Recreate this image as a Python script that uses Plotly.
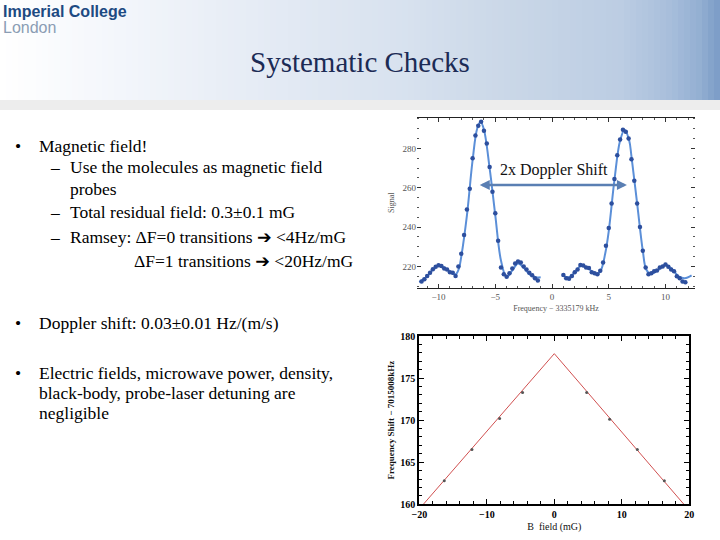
import plotly.graph_objects as go

# ---------------- data ----------------
# Top chart: Doppler spectrum (signal vs frequency offset, kHz)
left_x = [-11.5, -11.25, -11.0, -10.75, -10.5, -10.25, -10.0, -9.75, -9.5, -9.25, -9.0, -8.75,
          -8.5, -8.25, -8.0, -7.75, -7.5, -7.25, -7.0, -6.75, -6.5, -6.25, -6.0, -5.75, -5.5,
          -5.25, -5.0, -4.75, -4.5, -4.25, -4.0, -3.75, -3.5, -3.25, -3.0, -2.75, -2.5, -2.25,
          -2.0, -1.75, -1.5, -1.25]
left_y = [212.3, 213.5, 215.2, 216.8, 218.6, 219.8, 220.6, 220.2, 219.0, 218.5, 217.0, 216.8,
          215.2, 220.0, 226.5, 236.0, 249.0, 259.5, 275.0, 286.5, 291.5, 293.5, 289.0, 282.5,
          270.5, 258.0, 247.0, 233.0, 219.5, 216.0, 214.8, 216.5, 219.0, 221.5, 222.5, 222.0,
          220.0, 218.5, 216.8, 215.5, 214.0, 212.8]
right_x = [1.0, 1.25, 1.5, 1.75, 2.0, 2.25, 2.5, 2.75, 3.0, 3.25, 3.5, 3.75, 4.0, 4.25, 4.5,
           4.75, 5.0, 5.25, 5.5, 5.75, 6.0, 6.25, 6.5, 6.75, 7.0, 7.25, 7.5, 7.75, 8.0, 8.25,
           8.5, 8.75, 9.0, 9.25, 9.5, 9.75, 10.0, 10.25, 10.5, 10.75, 11.0, 11.25, 11.5, 11.75]
right_y = [215.6, 214.0, 213.8, 215.2, 217.0, 218.5, 220.8, 220.5, 219.5, 219.2, 217.0, 216.5,
           216.0, 217.8, 222.0, 230.5, 239.5, 252.0, 264.5, 276.5, 284.5, 289.5, 288.5, 285.0,
           274.5, 263.5, 252.0, 240.0, 228.0, 219.5, 216.0, 216.5, 217.5, 218.0, 219.5, 220.0,
           221.0, 219.8, 218.5, 217.5, 215.0, 214.0, 212.3, 212.0]
fit_left_x = [-11.7, -11.0, -10.5, -10.0, -9.5, -9.0, -8.5, -8.2, -8.0, -7.5, -7.0, -6.6, -6.3,
              -6.0, -5.5, -5.0, -4.5, -4.0, -3.5, -3.0, -2.5, -2.0, -1.5, -1.0]
fit_left_y = [212.0, 215.0, 218.5, 220.5, 219.5, 217.3, 216.0, 219.0, 225.0, 246.0, 274.0, 290.0,
              293.5, 289.5, 270.0, 246.0, 223.0, 214.5, 218.0, 221.5, 219.5, 216.0, 214.5, 214.5]
fit_right_x = [0.9, 1.5, 2.0, 2.6, 3.2, 3.9, 4.3, 4.7, 5.0, 5.5, 6.0, 6.4, 6.8, 7.0, 7.5, 8.0,
               8.3, 8.7, 9.3, 10.0, 10.6, 11.2, 11.7, 12.3]
fit_right_y = [215.5, 214.5, 217.0, 220.5, 219.0, 215.8, 218.0, 227.0, 238.0, 264.0, 284.0, 289.5,
               284.0, 276.0, 252.0, 228.0, 218.5, 216.3, 218.0, 220.8, 218.5, 214.8, 214.0, 215.5]
top_xticks = [-10, -5, 0, 5, 10]
top_xticklabels = ["\u221210", "\u22125", "0", "5", "10"]
top_yticks = [220, 240, 260, 280]
doppler_arrow = [-6.5, 6.6, 261.4]  # from x, to x, at y

# Bottom chart: frequency shift vs B-field
b_field = [-16.3, -12.2, -8.1, -4.7, 4.8, 8.2, 12.3, 16.3]
freq_shift = [162.8, 166.5, 170.2, 173.3, 173.3, 170.1, 166.5, 162.8]
fit_b = [-19.4, 0.0, 19.2]
fit_shift = [160.0, 177.9, 160.0]
bot_xticks = [-20, -10, 0, 10, 20]
bot_xticklabels = ["\u221220", "\u221210", "0", "10", "20"]
bot_yticks = [160, 165, 170, 175, 180]

# ---------------- figure ----------------
W, H = 720, 540
SERIF = "Liberation Serif"
fig = go.Figure()

# top chart traces
for fx, fy in [(fit_left_x, fit_left_y), (fit_right_x, fit_right_y)]:
    fig.add_trace(go.Scatter(x=fx, y=fy, mode="lines", line=dict(color="#5b8fd8", width=2, shape="spline"),
                             xaxis="x", yaxis="y", hoverinfo="skip", showlegend=False))
for dx, dy in [(left_x, left_y), (right_x, right_y)]:
    fig.add_trace(go.Scatter(x=dx, y=dy, mode="markers", marker=dict(color="#2d4f9e", size=4.5),
                             xaxis="x", yaxis="y", showlegend=False))

# bottom chart traces
fig.add_trace(go.Scatter(x=fit_b, y=fit_shift, mode="lines", line=dict(color="#d05050", width=1),
                         xaxis="x2", yaxis="y2", showlegend=False))
fig.add_trace(go.Scatter(x=b_field, y=freq_shift, mode="markers", marker=dict(color="#555555", size=3),
                         xaxis="x2", yaxis="y2", showlegend=False))

def px_x(p):
    return p / W

def px_y(p):
    return 1 - p / H

# header gradient (style only)
stops = [(0, (255, 255, 255)), (120, (243, 246, 251)), (250, (230, 236, 245)), (400, (216, 226, 239)),
         (500, (203, 216, 232)), (620, (188, 205, 227)), (670, (168, 190, 219)), (700, (147, 175, 210)),
         (720, (122, 155, 198))]

def col_at(x):
    for (x0, c0), (x1, c1) in zip(stops[:-1], stops[1:]):
        if x0 <= x <= x1:
            t = (x - x0) / (x1 - x0)
            return "rgb(%d,%d,%d)" % tuple(round(a + (b - a) * t) for a, b in zip(c0, c1))
    return "rgb(122,155,198)"

shapes = []
step = 6
for xs in range(0, W, step):
    shapes.append(dict(type="rect", xref="paper", yref="paper", x0=px_x(xs), x1=px_x(xs + step + 0.5),
                       y0=px_y(100), y1=1, fillcolor=col_at(xs + step / 2), line=dict(width=0), layer="below"))
shapes.append(dict(type="rect", xref="paper", yref="paper", x0=0, x1=1, y0=px_y(110), y1=px_y(100),
                   fillcolor="#ededed", line=dict(width=0), layer="below"))

annotations = []
# logo
annotations.append(dict(text="<b>Imperial College</b>", x=px_x(1), y=px_y(11), xref="paper", yref="paper",
                        xanchor="left", yanchor="middle", showarrow=False,
                        font=dict(family="Liberation Sans", size=16, color="#1d4a82")))
annotations.append(dict(text="London", x=px_x(1), y=px_y(28), xref="paper", yref="paper",
                        xanchor="left", yanchor="middle", showarrow=False,
                        font=dict(family="Liberation Sans", size=16, color="#8b9db4")))
# title
annotations.append(dict(text="Systematic Checks", x=px_x(360), y=px_y(62), xref="paper", yref="paper",
                        xanchor="center", yanchor="middle", showarrow=False,
                        font=dict(family=SERIF, size=29, color="#1c2b55")))

# left bullet text
ARW = "<span style='font-family:DejaVu Sans;font-weight:bold'>\u2794</span>"
TXT = dict(family=SERIF, size=17.5, color="#000000")
lines = [
    (13, 146, "\u2022"), (37, 146, "Magnetic field!"),
    (48, 167, "\u2013"), (68, 167, "Use the molecules as magnetic field"),
    (68, 189, "probes"),
    (48, 212, "\u2013"), (68, 212, "Total residual field: 0.3\u00b10.1 mG"),
    (48, 237, "\u2013"), (68, 237, "Ramsey: \u0394F=0 transitions " + ARW + " &lt;4Hz/mG"),
    (132, 261, "\u0394F=1 transitions " + ARW + " &lt;20Hz/mG"),
    (13, 323, "\u2022"), (37, 323, "Doppler shift: 0.03\u00b10.01 Hz/(m/s)"),
    (13, 373, "\u2022"), (37, 373, "Electric fields, microwave power, density,"),
    (37, 393, "black-body, probe-laser detuning are"),
    (37, 413, "negligible"),
]
for x, y, t in lines:
    annotations.append(dict(text=t, x=px_x(x), y=px_y(y), xref="paper", yref="paper",
                            xanchor="left", yanchor="middle", showarrow=False, font=TXT))

# doppler arrow + label on the top chart
annotations.append(dict(x=doppler_arrow[1], y=doppler_arrow[2], ax=doppler_arrow[0], ay=doppler_arrow[2],
                        xref="x", yref="y", axref="x", ayref="y", text="", showarrow=True,
                        arrowhead=2, arrowside="end+start", arrowsize=0.8, arrowwidth=2.5,
                        arrowcolor="#5a7fb3"))
annotations.append(dict(text="2x Doppler Shift", x=0.2, y=269.0, xref="x", yref="y",
                        xanchor="center", yanchor="middle", showarrow=False,
                        font=dict(family=SERIF, size=16, color="#111111")))

top_tick_font = dict(family=SERIF, size=9, color="#555555")
bot_tick_font = dict(family=SERIF, size=10, color="#000000", weight="bold")

fig.update_layout(
    width=W, height=H, margin=dict(l=0, r=0, t=0, b=0, pad=0, autoexpand=False),
    paper_bgcolor="white", plot_bgcolor="rgba(0,0,0,0)", showlegend=False,
    shapes=shapes, annotations=annotations,
    xaxis=dict(domain=[px_x(417), px_x(695)], anchor="y", range=[-11.9, 12.6], automargin=False,
               tickvals=top_xticks, ticktext=top_xticklabels, ticks="inside", ticklen=4,
               tickcolor="#333333", showline=True, linecolor="#222222", linewidth=1, mirror="ticks",
               showgrid=False, zeroline=False, tickfont=top_tick_font,
               minor=dict(dtick=1, ticks="inside", ticklen=2, tickcolor="#555555"),
               title=dict(text="Frequency \u2212 3335179 kHz", font=dict(family=SERIF, size=8, color="#555555"),
                          standoff=4)),
    yaxis=dict(domain=[px_y(287.7), px_y(117.7)], anchor="x", range=[209.2, 295.6], automargin=False,
               tickvals=top_yticks, ticks="inside", ticklen=4, tickcolor="#333333",
               showline=False, mirror="ticks", showgrid=False, zeroline=False, tickfont=top_tick_font,
               minor=dict(dtick=5, ticks="inside", ticklen=2, tickcolor="#555555"),
               title=dict(text="Signal", font=dict(family=SERIF, size=8, color="#555555"), standoff=6)),
    xaxis2=dict(domain=[px_x(419.3), px_x(689.3)], anchor="y2", range=[-20, 20], automargin=False,
                tickvals=bot_xticks, ticktext=bot_xticklabels, ticks="inside", ticklen=5,
                tickcolor="#000000", showline=True, linecolor="#000000", linewidth=2, mirror="ticks",
                showgrid=False, zeroline=False, tickfont=bot_tick_font,
                minor=dict(dtick=2, ticks="inside", ticklen=3, tickcolor="#000000"),
                title=dict(text="B  field (mG)", font=dict(family=SERIF, size=10, color="#111111"), standoff=4)),
    yaxis2=dict(domain=[px_y(504.3), px_y(336)], anchor="x2", range=[160, 180], automargin=False,
                tickvals=bot_yticks, ticks="inside", ticklen=5, tickcolor="#000000",
                showline=True, linecolor="#000000", linewidth=2, mirror="ticks",
                showgrid=False, zeroline=False, tickfont=bot_tick_font,
                minor=dict(dtick=1, ticks="inside", ticklen=3, tickcolor="#000000"),
                title=dict(text="<b>Frequency Shift \u2212 7015008kHz</b>",
                           font=dict(family=SERIF, size=9, color="#111111"), standoff=4)),
)

fig.write_html("out.html", config={"displayModeBar": False},
               post_script="document.body.style.margin='0';")
